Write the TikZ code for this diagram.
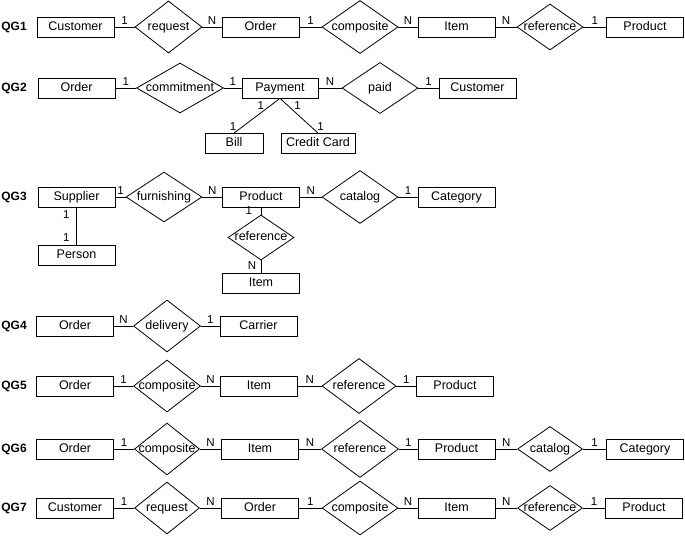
\documentclass[tikz,border=0pt]{standalone}
\usepackage{fontspec}
\setmainfont{Liberation Sans}
\usetikzlibrary{shapes.geometric}

\begin{document}
\begin{tikzpicture}[x=1pt, y=-1pt, line width=0.8pt,
    ent/.style={draw, rectangle, minimum width=77pt, minimum height=20pt, inner sep=0pt,
        text height=9pt, text depth=2.5pt, font=\fontsize{12.5}{14}\selectfont},
    rel/.style 2 args={draw, diamond, inner sep=0pt, minimum width=#1pt, minimum height=#2pt,
        text height=9pt, text depth=2.5pt, font=\fontsize{12.5}{14}\selectfont},
    card/.style={above, inner sep=2.5pt, font=\fontsize{11.5}{12}\selectfont},
    qg/.style={anchor=west, inner sep=0pt, font=\fontsize{12}{14}\bfseries\selectfont}]

    % Khung ảnh
    \useasboundingbox (0,0) rectangle (685,538);

    % Nhãn QG1..QG7
    \foreach \q/\y in {1/27, 2/88, 3/197, 4/326, 5/386, 6/449, 7/508}
        \node[qg] (qg\q) at (1,\y) {QG\q};

    % QG1
    \node[ent] (cu1) at (75.5,27) {Customer};
    \node[rel={67}{52}] (rq1) at (168.5,27) {\makebox[0pt]{request}};
    \node[ent] (or1) at (260.5,27) {Order};
    \node[rel={76}{53}] (co1) at (360,27) {\makebox[0pt]{composite}};
    \node[ent] (it1) at (456.5,27) {Item};
    \node[rel={66}{46}] (rf1) at (550,27) {\makebox[0pt]{reference}};
    \node[ent] (pr1) at (645,27) {Product};
    \draw (cu1) -- node[card] {1} (rq1) -- node[card] {N} (or1);
    \draw (or1) -- node[card] {1} (co1) -- node[card] {N} (it1);
    \draw (it1) -- node[card] {N} (rf1) -- node[card] {1} (pr1);

    % QG2
    \node[ent] (or2) at (76.5,88) {Order};
    \node[rel={87}{50}] (cm2) at (180,88) {\makebox[0pt]{commitment}};
    \node[ent, minimum width=76pt] (pa2) at (280,88) {Payment};
    \node[rel={76}{51}] (pd2) at (380,88) {\makebox[0pt]{paid}};
    \node[ent] (cu2) at (477.5,88) {Customer};
    \node[ent, minimum width=58pt] (bi2) at (234,143.5) {Bill};
    \node[ent, minimum width=74pt] (cc2) at (318,143.5) {Credit Card};
    \draw (or2) -- node[card] {1} (cm2) -- node[card] {1} (pa2);
    \draw (pa2) -- node[card] {N} (pd2) -- node[card] {1} (cu2);
    \draw (pa2.south) -- node[card, left=3pt, pos=0.22] {1} node[card, left=4pt, pos=0.8] {1} (bi2.north);
    \draw (pa2.south) -- node[card, right=3pt, pos=0.22] {1} node[card, right=4pt, pos=0.8] {1} (cc2.north);

    % QG3
    \node[ent] (su3) at (76.5,197) {Supplier};
    \node[rel={76}{50}] (fu3) at (164,197) {\makebox[0pt]{furnishing}};
    \node[ent] (pr3) at (261,197) {Product};
    \node[rel={76}{53}] (ca3) at (360,197) {\makebox[0pt]{catalog}};
    \node[ent] (cg3) at (456.5,197) {Category};
    \node[ent] (pe3) at (76.5,255) {Person};
    \node[rel={66}{45}] (rf3) at (261,237.5) {\makebox[0pt]{reference}};
    \node[ent] (it3) at (261,283) {Item};
    \draw (su3) -- node[card] {1} (fu3) -- node[card] {N} (pr3);
    \draw (pr3) -- node[card] {N} (ca3) -- node[card] {1} (cg3);
    \draw (su3) -- node[card, left=4pt, pos=0.18] {1} node[card, left=4pt, pos=0.82] {1} (pe3);
    \draw (pr3) -- node[card, left=6pt, pos=0.5] {1} (rf3);
    \draw (rf3) -- node[card, left=2pt, pos=0.4] {N} (it3);

    % QG4
    \node[ent] (or4) at (75,326) {Order};
    \node[rel={67}{52}] (de4) at (167,326) {\makebox[0pt]{delivery}};
    \node[ent] (cr4) at (258.5,326) {Carrier};
    \draw (or4) -- node[card] {N} (de4) -- node[card] {1} (cr4);

    % QG5
    \node[ent] (or5) at (75,386) {Order};
    \node[rel={67}{52}] (co5) at (167,386) {\makebox[0pt]{composite}};
    \node[ent] (it5) at (259,386) {Item};
    \node[rel={74}{55}] (rf5) at (359,386) {\makebox[0pt]{reference}};
    \node[ent] (pr5) at (455,386) {Product};
    \draw (or5) -- node[card] {1} (co5) -- node[card] {N} (it5);
    \draw (it5) -- node[card] {N} (rf5) -- node[card] {1} (pr5);

    % QG6
    \node[ent] (or6) at (75,449) {Order};
    \node[rel={65}{52}] (co6) at (167,449) {\makebox[0pt]{composite}};
    \node[ent] (it6) at (260,449) {Item};
    \node[rel={77}{57}] (rf6) at (360,449) {\makebox[0pt]{reference}};
    \node[ent] (pr6) at (456.5,449) {Product};
    \node[rel={65}{45}] (ca6) at (550,449) {\makebox[0pt]{catalog}};
    \node[ent] (cg6) at (645,449) {Category};
    \draw (or6) -- node[card] {1} (co6) -- node[card] {N} (it6);
    \draw (it6) -- node[card] {N} (rf6) -- node[card] {1} (pr6);
    \draw (pr6) -- node[card] {N} (ca6) -- node[card] {1} (cg6);

    % QG7
    \node[ent] (cu7) at (75,508) {Customer};
    \node[rel={65}{52}] (rq7) at (167,508) {\makebox[0pt]{request}};
    \node[ent] (or7) at (260,508) {Order};
    \node[rel={76}{54}] (co7) at (360,508) {\makebox[0pt]{composite}};
    \node[ent] (it7) at (456.5,508) {Item};
    \node[rel={65}{45}] (rf7) at (550,508) {\makebox[0pt]{reference}};
    \node[ent] (pr7) at (644,508) {Product};
    \draw (cu7) -- node[card] {1} (rq7) -- node[card] {N} (or7);
    \draw (or7) -- node[card] {1} (co7) -- node[card] {N} (it7);
    \draw (it7) -- node[card] {N} (rf7) -- node[card] {1} (pr7);

\end{tikzpicture}
\end{document}
